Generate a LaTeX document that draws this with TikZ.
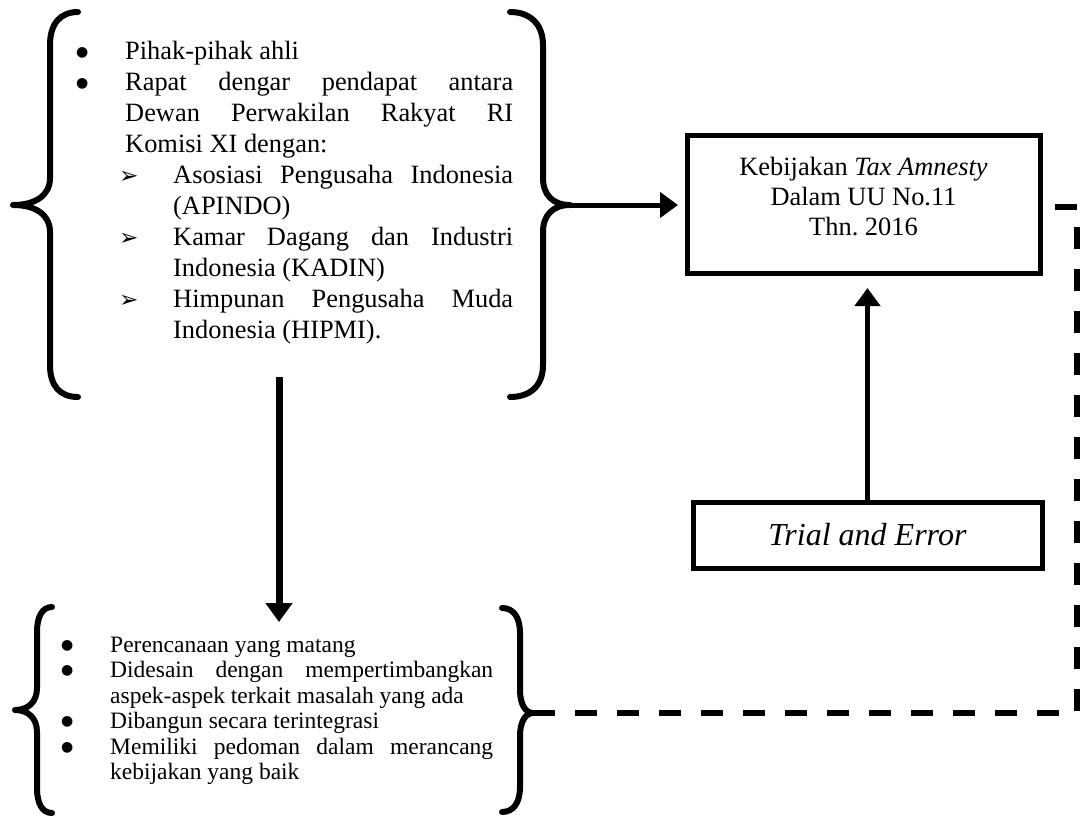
\documentclass[tikz,border=0pt]{standalone}
\usepackage{fontspec}
\setmainfont{Liberation Serif}
\newfontfamily\dingfont{DejaVu Sans}
\usetikzlibrary{arrows.meta}
\frenchspacing

% list with zero-width centred labels: #1 = left margin, #2 = label offset
\newenvironment{marklist}[2]{%
  \begin{list}{}{%
    \setlength\leftmargin{#1}\setlength\rightmargin{0pt}%
    \setlength\labelwidth{0pt}\setlength\labelsep{#2}%
    \setlength\itemindent{0pt}\setlength\itemsep{0pt}%
    \setlength\parsep{0pt}\setlength\topsep{0pt}\setlength\partopsep{0pt}}}%
  {\end{list}}
\newcommand\dotitem{\item[{\makebox[0pt]{\raisebox{3pt}{\dingfont\fontsize{14}{14}\selectfont ●}}}]}
\newcommand\arrowitem{\item[{\makebox[0pt]{\dingfont\fontsize{23}{23}\selectfont ➢}}]}

\tikzset{
  brace/.style={line width=6pt, line cap=round, line join=round},
  framebox/.style={draw, line width=5pt, inner sep=0pt},
  flow/.style={line width=5pt, -{Triangle[length=18pt,width=25pt]}},
  feedback/.style={line width=6pt, dash pattern=on 22pt off 20pt},
  textblock/.style={inner sep=0pt, anchor=base west},
}

\begin{document}
\begin{tikzpicture}[x=1pt,y=-1pt]
\useasboundingbox (0,0) rectangle (1088,817);
\fill[white] (0,0) rectangle (1088,817);

% ---------- upper group: sources of input ----------
\draw[brace] (78,12) .. controls (60,12) and (50,24) .. (50,45)
  -- (50,178) .. controls (50,195) and (36,205) .. (13,205)
  .. controls (36,205) and (50,215) .. (50,232)
  -- (50,365) .. controls (50,386) and (60,397) .. (78,397);
\draw[brace] (510,12) .. controls (530,12) and (543,24) .. (543,45)
  -- (543,178) .. controls (543,195) and (553,205) .. (570,205)
  .. controls (553,205) and (543,215) .. (543,232)
  -- (543,365) .. controls (543,386) and (530,397) .. (510,397);
\coordinate (topTip) at (570,205);

\node[textblock] (topList) at (125,59) {%
  \begin{minipage}[t]{388pt}
  \fontsize{26.4}{31}\selectfont\parindent=0pt\hyphenpenalty=10000\tolerance=9999
  \begin{marklist}{0pt}{43pt}
  \dotitem Pihak-pihak ahli
  \dotitem Rapat dengar pendapat antara\linebreak Dewan Perwakilan Rakyat RI\linebreak Komisi XI dengan:
    \begin{marklist}{48pt}{44.5pt}
    \arrowitem Asosiasi Pengusaha Indonesia\linebreak (APINDO)
    \arrowitem Kamar Dagang dan Industri\linebreak Indonesia (KADIN)
    \arrowitem Himpunan Pengusaha Muda\linebreak Indonesia (HIPMI).
    \end{marklist}
  \end{marklist}
  \end{minipage}};

% ---------- policy box ----------
\node[framebox, minimum width=353pt, minimum height=138pt] (kebijakan) at (863.5,204) {};
\node[inner sep=0pt, anchor=base] (kebijakanText) at (863.5,175) {%
  \begin{minipage}[t]{340pt}\centering
  \fontsize{26.4}{30}\selectfont Kebijakan \textit{Tax Amnesty}\\Dalam UU No.11\\Thn. 2016
  \end{minipage}};

% ---------- trial and error box ----------
\node[framebox, minimum width=349pt, minimum height=66pt] (trial) at (867.5,535)
  {\fontsize{32}{36}\selectfont\textit{Trial and Error}};

% ---------- lower group: policy design principles ----------
\draw[brace] (52,607) .. controls (42,607) and (37,617) .. (37,632)
  -- (37,688) .. controls (37,702) and (28,710) .. (15,710)
  .. controls (28,710) and (37,718) .. (37,732)
  -- (37,788) .. controls (37,803) and (42,813) .. (52,813);
\draw[brace] (502,608) .. controls (514,608) and (520,618) .. (520,633)
  -- (520,690) .. controls (520,705) and (526,713) .. (533,713)
  .. controls (526,713) and (520,721) .. (520,736)
  -- (520,787) .. controls (520,802) and (514,812) .. (502,812);
\coordinate (botTip) at (533,713);

\node[textblock] (botList) at (110,652) {%
  \begin{minipage}[t]{383pt}
  \fontsize{23.5}{25.5}\selectfont\parindent=0pt\hyphenpenalty=10000\tolerance=9999
  \begin{marklist}{0pt}{43pt}
  \dotitem Perencanaan yang matang
  \dotitem Didesain dengan mempertimbangkan\linebreak aspek-aspek terkait masalah yang ada
  \dotitem Dibangun secara terintegrasi
  \dotitem Memiliki pedoman dalam merancang\linebreak kebijakan yang baik
  \end{marklist}
  \end{minipage}};

% ---------- connectors ----------
\draw[flow, shorten >=6.5pt] (topTip) -- (kebijakan.west |- topTip);
\draw[flow, shorten >=12.5pt] (trial.north) -- (trial.north |- kebijakan.south);
\coordinate (downStart) at (279,377);
\coordinate (downEnd) at (279,622);
\draw[line width=7pt, -{Triangle[length=19pt,width=26pt]}] (downStart) -- (downEnd);
\coordinate (dashEnd) at ([xshift=10.5pt,yshift=-3pt]kebijakan.east);
\coordinate (dashCorner) at (1077,0 |- dashEnd);
\draw[feedback] (botTip) -| (dashCorner) -- (dashEnd);
\end{tikzpicture}
\end{document}
